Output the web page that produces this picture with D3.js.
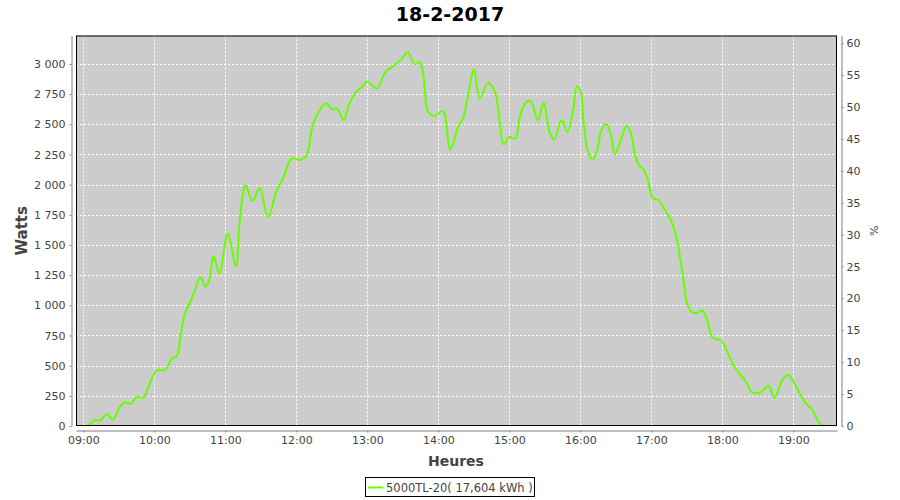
<!DOCTYPE html>
<html><head><meta charset="utf-8">
<script src="https://cdn.jsdelivr.net/npm/d3@7"></script>
<style>body{margin:0;background:#fff}svg{display:block}</style>
</head><body>
<svg id="c" width="900" height="500"></svg>
<script>
const title = "18-2-2017";
const seriesName = "5000TL-20( 17,604 kWh )";
const times = ["09:04","09:10","09:14","09:20","09:25","09:31","09:35","09:40","09:45","09:51","09:55","10:02","10:09","10:15","10:19","10:22","10:26","10:30","10:34","10:39","10:43","10:46","10:50","10:55","11:02","11:09","11:12","11:17","11:23","11:29","11:36","11:43","11:49","11:56","12:02","12:05","12:09","12:13","12:17","12:25","12:30","12:34","12:40","12:44","12:50","12:55","13:00","13:08","13:15","13:22","13:29","13:34","13:40","13:44","13:47","13:49","13:51","13:57","14:03","14:05","14:10","14:17","14:21","14:25","14:30","14:35","14:42","14:48","14:52","14:55","15:00","15:05","15:09","15:14","15:18","15:24","15:29","15:34","15:38","15:44","15:49","15:54","15:57","16:00","16:03","16:06","16:10","16:14","16:18","16:22","16:26","16:29","16:34","16:39","16:43","16:46","16:50","16:53","16:57","17:01","17:06","17:10","17:16","17:21","17:24","17:27","17:30","17:34","17:38","17:43","17:47","17:52","17:59","18:04","18:09","18:15","18:19","18:25","18:32","18:39","18:44","18:50","18:55","19:00","19:06","19:10","19:16","19:21","19:25"];
const watts = [0,50,45,100,50,160,194,183,238,238,327,460,465,562,581,742,936,1019,1116,1235,1157,1199,1406,1262,1595,1323,1680,1993,1863,1974,1730,1940,2057,2218,2204,2209,2251,2458,2569,2674,2625,2633,2536,2652,2763,2805,2855,2797,2929,2984,3040,3100,2998,3020,2929,2735,2611,2569,2611,2597,2290,2486,2556,2735,2955,2713,2843,2763,2500,2334,2395,2381,2569,2680,2694,2536,2680,2431,2375,2536,2436,2625,2813,2777,2486,2292,2204,2279,2458,2500,2403,2251,2362,2486,2417,2251,2154,2131,2043,1891,1871,1815,1711,1573,1406,1213,1019,944,936,955,880,728,708,617,507,424,382,280,277,332,235,368,424,368,257,194,133,36,0];
const wattTicks = [0,250,500,750,1000,1250,1500,1750,2000,2250,2500,2750,3000];
const pctTicks = [0,5,10,15,20,25,30,35,40,45,50,55,60];
const hourTicks = ["09:00","10:00","11:00","12:00","13:00","14:00","15:00","16:00","17:00","18:00","19:00"];

const parse = s => { const [h,m] = s.split(":").map(Number); return new Date(2017,1,18,h,m); };
const data = times.map((t,i)=>({t:parse(t), v:watts[i]}));

const svg = d3.select("#c");
const L=76, R=837, T=35.5, B=426;
const x = d3.scaleTime().domain([new Date(2017,1,18,8,53,48), new Date(2017,1,18,19,36,48)]).range([L,R]);
const y = d3.scaleLinear().domain([0,3236]).range([B,T]);
const y2 = d3.scaleLinear().domain([0,61.2]).range([B,T]);
const font = "DejaVu Sans, Verdana, sans-serif";

svg.append("rect").attr("x",L).attr("y",T).attr("width",R-L).attr("height",B-T).attr("fill","#cccccc");

const g = svg.append("g");
g.selectAll(".vg").data(hourTicks).join("line")
  .attr("x1",d=>Math.round(x(parse(d)))+0.5).attr("x2",d=>Math.round(x(parse(d)))+0.5)
  .attr("y1",T).attr("y2",B).attr("stroke","#fff").attr("stroke-dasharray","2,2");
g.selectAll(".hg").data(wattTicks.slice(1)).join("line")
  .attr("y1",d=>Math.round(y(d))+0.5).attr("y2",d=>Math.round(y(d))+0.5)
  .attr("x1",L).attr("x2",R).attr("stroke","#fff").attr("stroke-dasharray","2,2");

const line = d3.line().x(d=>x(d.t)).y(d=>y(d.v)).curve(d3.curveCatmullRom.alpha(0.5));
svg.append("path").datum(data).attr("d",line).attr("fill","none").attr("stroke","#66ff00").attr("stroke-width",2);

svg.append("rect").attr("x",L+0.5).attr("y",T+0.5).attr("width",R-L-1).attr("height",B-T-1)
  .attr("fill","none").attr("stroke","#000").attr("stroke-width",1);

function styleAxis(sel){
  sel.selectAll("path,line").attr("stroke","#808080");
  sel.selectAll("text").attr("fill","#444").style("font-family",font).style("font-size","11px");
}
const fmt = d3.formatLocale({decimal:",",thousands:"\u00a0",grouping:[3],currency:["",""]}).format(",d");
const ax = d3.axisLeft(y).tickValues(wattTicks).tickFormat(d=>fmt(d).replace("\u00a0"," ")).tickSize(2).tickSizeOuter(0).tickPadding(4);
svg.append("g").attr("transform","translate(71.5,0)").call(ax).call(styleAxis);
const ax2 = d3.axisRight(y2).tickValues(pctTicks).tickSize(2).tickSizeOuter(0).tickPadding(3);
svg.append("g").attr("transform","translate(841.5,0)").call(ax2).call(styleAxis);
const axb = d3.axisBottom(x).tickValues(hourTicks.map(parse)).tickFormat(d3.timeFormat("%H:%M")).tickSize(2).tickSizeOuter(0).tickPadding(4);
svg.append("g").attr("transform","translate(0,430.5)").call(axb).call(styleAxis);

svg.append("text").attr("x",450).attr("y",21).attr("text-anchor","middle")
  .style("font-family",font).style("font-weight","bold").style("font-size","19px").attr("fill","#000").text(title);
svg.append("text").attr("transform","translate(27,"+((T+B)/2)+") rotate(-90)").attr("text-anchor","middle")
  .style("font-family",font).style("font-weight","bold").style("font-size","15px").attr("fill","#444").text("Watts");
svg.append("text").attr("x",456).attr("y",466).attr("text-anchor","middle")
  .style("font-family",font).style("font-weight","bold").style("font-size","14px").attr("fill","#444").text("Heures");
svg.append("text").attr("transform","translate(870,"+((T+B)/2)+") rotate(90)").attr("text-anchor","middle")
  .style("font-family",font).style("font-size","11px").attr("fill","#444").text("%");

const lg = svg.append("g");
lg.append("rect").attr("x",365.5).attr("y",477.5).attr("width",169).attr("height",19).attr("fill","#fff").attr("stroke","#000");
lg.append("line").attr("x1",368).attr("x2",383).attr("y1",487.5).attr("y2",487.5).attr("stroke","#66ff00").attr("stroke-width",2);
lg.append("text").attr("x",386).attr("y",492).style("font-family",font).style("font-size","11.5px").attr("fill","#444").text(seriesName);
</script>
</body></html>
